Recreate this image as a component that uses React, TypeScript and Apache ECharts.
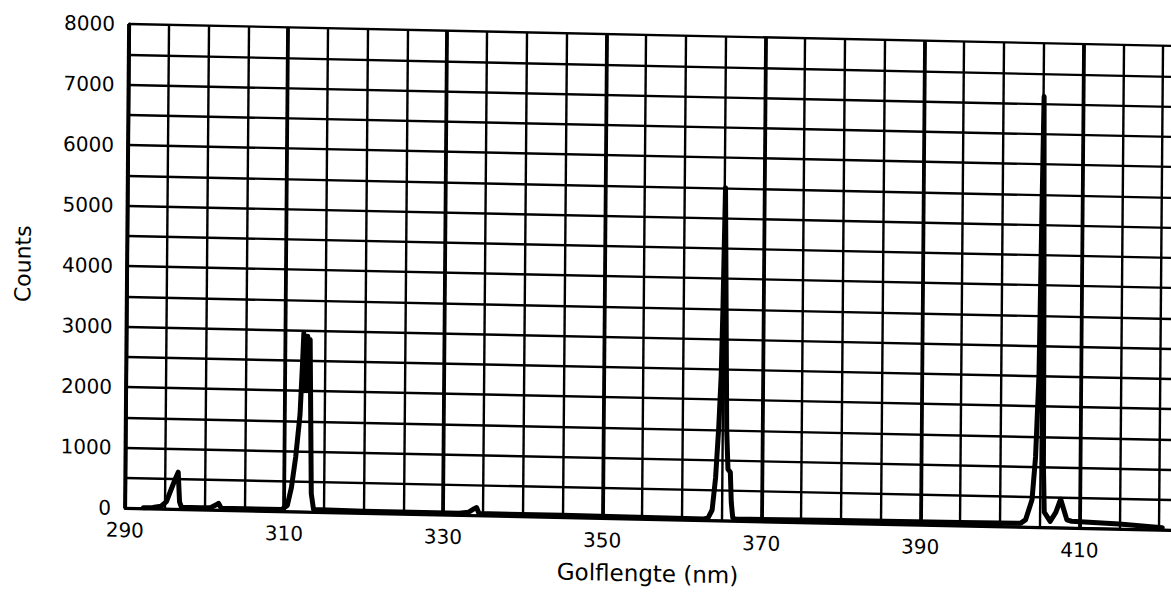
import React, { useEffect, useRef } from "react";
import * as echarts from "echarts";

// Wavelength (nm) sample positions
const wavelengthNm = [
  292.3, 293.5, 294.5, 295.2, 295.8, 296.3, 296.65, 296.85, 297.1, 299.5,
  300.8, 301.4, 301.75, 302.1, 305.0, 309.7, 310.4, 310.9, 311.4, 311.9,
  312.15, 312.3, 312.45, 312.55, 312.7, 312.8, 312.95, 313.1, 313.4, 313.7,
  320.0, 332.0, 333.2, 333.9, 334.2, 334.5, 345.0, 362.8, 363.3, 363.8,
  364.2, 364.55, 364.8, 364.95, 365.15, 365.35, 365.55, 365.75, 366.05, 366.2,
  366.4, 366.8, 380.0, 395.0, 402.6, 403.2, 404.0, 404.4, 404.75, 404.95,
  405.1, 405.28, 405.4, 405.55, 406.3, 407.0, 407.6, 408.0, 408.4, 409.0,
  415.0, 420.4,
];

// Counts at each wavelength
const counts = [
  10, 20, 40, 120, 330, 500, 610, 120, 30, 30,
  40, 80, 110, 30, 30, 30, 100, 400, 900, 1600,
  2400, 2950, 2000, 2900, 2000, 2900, 2000, 2850, 300, 40,
  30, 30, 50, 110, 130, 30, 30, 20, 40, 170,
  700, 1550, 2400, 3500, 5500, 3500, 1500, 850, 800, 300,
  50, 30, 40, 50, 60, 115, 450, 1160, 2540, 5300,
  7120, 4000, 1000, 250, 100, 250, 470, 300, 130, 110,
  80, 35,
];

// Axis ranges and tick steps
const xRange = [290, 421.5];
const xLabelStep = 20;
const xGridStep = 5;
const yRange = [0, 8000];
const yLabelStep = 1000;
const yGridStep = 500;

const xTitle = "Golflengte (nm)";
const yTitle = "Counts";

const FONT = "DejaVu Sans";

export default function App() {
  const ref = useRef<HTMLDivElement>(null);

  useEffect(() => {
    if (!ref.current) return;
    const chart = echarts.init(ref.current, null, { renderer: "svg" });
    const seriesData = wavelengthNm.map((w, i) => [w, counts[i]]);
    chart.setOption({
      animation: false,
      backgroundColor: "#ffffff",
      grid: { left: 125, right: 0, top: 24, bottom: 86, containLabel: false },
      xAxis: [
        {
          type: "value",
          min: xRange[0],
          max: xRange[1],
          interval: xLabelStep,
          position: "bottom",
          name: xTitle,
          nameLocation: "middle",
          nameGap: 43,
          nameTextStyle: { color: "#000", fontSize: 23, fontFamily: FONT },
          axisLine: { show: true, onZero: false, lineStyle: { color: "#000", width: 3 } },
          axisTick: { show: false },
          axisLabel: {
            margin: 12,
            color: "#000",
            fontSize: 20,
            fontFamily: FONT,
            showMaxLabel: false,
            formatter: (v: number) =>
              Math.abs((v - xRange[0]) % xLabelStep) < 1e-6 ? String(v) : "",
          },
          splitLine: {
            show: true,
            showMaxLine: false,
            lineStyle: { color: "#000", width: 3.8 },
          },
        },
        {
          type: "value",
          min: xRange[0],
          max: xRange[1],
          interval: xGridStep,
          position: "bottom",
          axisLine: { show: false },
          axisTick: { show: false },
          axisLabel: { show: false },
          splitLine: {
            show: true,
            showMaxLine: false,
            lineStyle: { color: "#000", width: 2.4 },
          },
        },
      ],
      yAxis: {
        type: "value",
        min: yRange[0],
        max: yRange[1],
        interval: yGridStep,
        name: yTitle,
        nameLocation: "middle",
        nameGap: 93,
        nameTextStyle: { color: "#000", fontSize: 22, fontFamily: FONT },
        axisLine: { show: true, lineStyle: { color: "#000", width: 3.2 } },
        axisTick: { show: false },
        axisLabel: {
          margin: 14,
          color: "#000",
          fontSize: 20,
          fontFamily: FONT,
          formatter: (v: number) => (v % yLabelStep === 0 ? String(v) : ""),
        },
        splitLine: { show: true, lineStyle: { color: "#000", width: 2.4 } },
      },
      series: [
        {
          type: "line",
          xAxisIndex: 0,
          yAxisIndex: 0,
          data: seriesData,
          showSymbol: false,
          symbol: "none",
          smooth: false,
          z: 10,
          lineStyle: { color: "#000", width: 5, join: "round", cap: "round" },
        },
      ],
    });
    return () => chart.dispose();
  }, []);

  return (
    <div
      style={{
        position: "fixed",
        left: 0,
        top: 0,
        width: 1171,
        height: 594,
        overflow: "hidden",
        background: "#fff",
      }}
    >
      <div
        ref={ref}
        style={{
          width: 1171,
          height: 594,
          transformOrigin: "125px 508px",
          transform: "matrix(1, 0.021, -0.0083, 1, 0, 0)",
        }}
      />
    </div>
  );
}
